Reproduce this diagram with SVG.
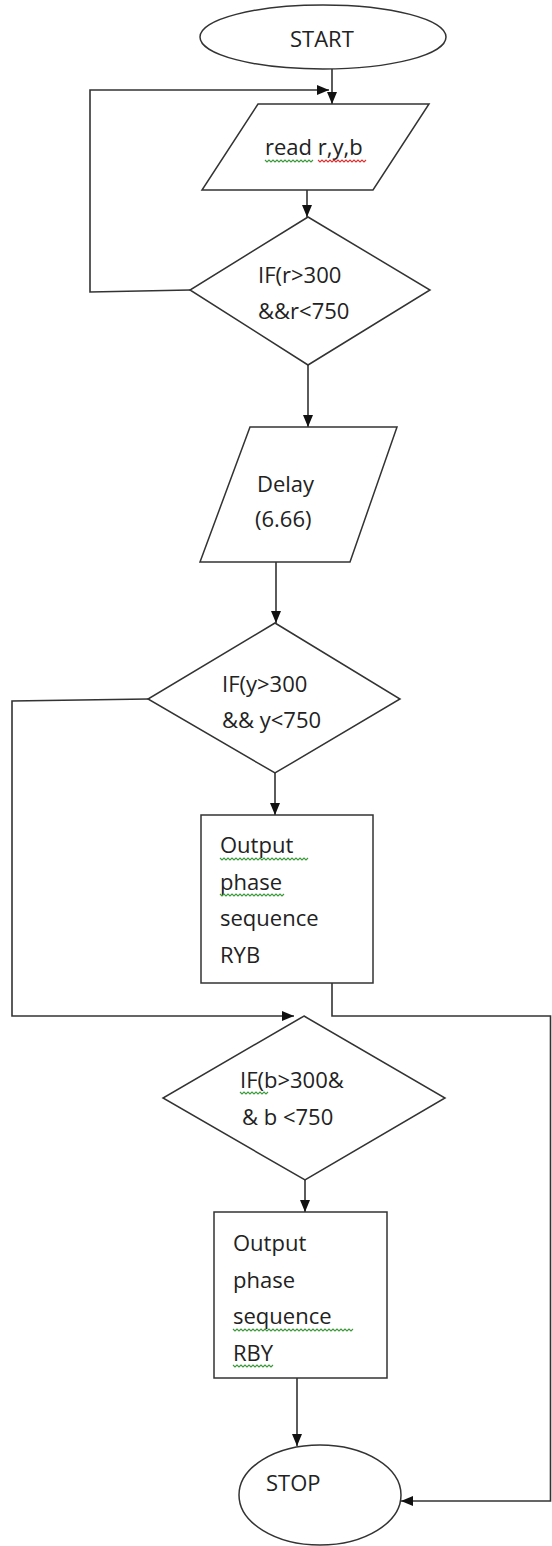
<svg xmlns="http://www.w3.org/2000/svg" width="552" height="1546" viewBox="0 0 552 1546">
<defs>
<marker id="arr" viewBox="0 0 12 10" refX="12" refY="5" markerWidth="12" markerHeight="10" markerUnits="userSpaceOnUse" orient="auto">
<path d="M0,0 L12,5 L0,10 Z" fill="#111"/>
</marker>
<style>
.shape{fill:#fff;stroke:#333;stroke-width:1.5}
.conn{fill:none;stroke:#333;stroke-width:1.6}
.t{font-family:"Open Sans","Noto Sans",sans-serif;font-size:22px;fill:#222}
.sqg{fill:none;stroke:#3a9a3a;stroke-width:1.1}
.sqr{fill:none;stroke:#e03030;stroke-width:1.1}
</style>
</defs>
<rect width="552" height="1546" fill="#fff"/>
<g id="connectors">
<line class="conn" x1="332" y1="69" x2="332" y2="104" marker-end="url(#arr)"/>
<polyline class="conn" points="190,290 90,292 90,90 329,90" marker-end="url(#arr)"/>
<line class="conn" x1="307" y1="190" x2="307" y2="217" marker-end="url(#arr)"/>
<line class="conn" x1="308" y1="365" x2="308" y2="427" marker-end="url(#arr)"/>
<line class="conn" x1="276" y1="562" x2="276" y2="623" marker-end="url(#arr)"/>
<line class="conn" x1="275" y1="773" x2="275" y2="815" marker-end="url(#arr)"/>
<polyline class="conn" points="148,699 12,701 12,1016 294,1016" marker-end="url(#arr)"/>
<polyline class="conn" points="332,983 332,1016 550.5,1016 550.5,1501 401,1501" marker-end="url(#arr)"/>
<line class="conn" x1="305" y1="1180" x2="305" y2="1212" marker-end="url(#arr)"/>
<line class="conn" x1="297" y1="1378" x2="297" y2="1446" marker-end="url(#arr)"/>
</g>
<g id="start">
<ellipse class="shape" cx="323" cy="37" rx="123" ry="32"/>
<text class="t" x="290" y="47">START</text>
</g>
<g id="read">
<polygon class="shape" points="258,104 429,104 373,190 202,190"/>
<text class="t" x="265" y="155">read r,y,b</text>
<path class="sqg" d="M265,160 l2,2 l2,-2 l2,2 l2,-2 l2,2 l2,-2 l2,2 l2,-2 l2,2 l2,-2 l2,2 l2,-2 l2,2 l2,-2 l2,2 l2,-2 l2,2 l2,-2 l2,2 l2,-2 l2,2 l2,-2 l2,2 l2,-2"/>
<path class="sqr" d="M318,160 l2,2 l2,-2 l2,2 l2,-2 l2,2 l2,-2 l2,2 l2,-2 l2,2 l2,-2 l2,2 l2,-2 l2,2 l2,-2 l2,2 l2,-2 l2,2 l2,-2 l2,2 l2,-2 l2,2 l2,-2 l2,2 l2,-2"/>
</g>
<g id="if-r">
<polygon class="shape" points="308,217 430,290 308,365 190,290"/>
<text class="t" x="258" y="283">IF(r&gt;300</text>
<text class="t" x="258" y="319">&amp;&amp;r&lt;750</text>
</g>
<g id="delay">
<polygon class="shape" points="250,427 397,427 350,562 200,562"/>
<text class="t" x="257" y="492">Delay</text>
<text class="t" x="255" y="527">(6.66)</text>
</g>
<g id="if-y">
<polygon class="shape" points="275,623 400,699 275,773 148,699"/>
<text class="t" x="222" y="692">IF(y&gt;300</text>
<text class="t" x="222" y="728">&amp;&amp; y&lt;750</text>
</g>
<g id="out-ryb">
<rect class="shape" x="201" y="815" width="172" height="168"/>
<text class="t" x="220" y="853">Output</text>
<text class="t" x="220" y="890">phase</text>
<text class="t" x="220" y="926">sequence</text>
<text class="t" x="220" y="963">RYB</text>
<path class="sqg" d="M220,858 l2,2 l2,-2 l2,2 l2,-2 l2,2 l2,-2 l2,2 l2,-2 l2,2 l2,-2 l2,2 l2,-2 l2,2 l2,-2 l2,2 l2,-2 l2,2 l2,-2 l2,2 l2,-2 l2,2 l2,-2 l2,2 l2,-2 l2,2 l2,-2 l2,2 l2,-2 l2,2 l2,-2 l2,2 l2,-2 l2,2 l2,-2 l2,2 l2,-2 l2,2 l2,-2 l2,2 l2,-2 l2,2 l2,-2 l2,2 l2,-2"/>
<path class="sqg" d="M220,894 l2,2 l2,-2 l2,2 l2,-2 l2,2 l2,-2 l2,2 l2,-2 l2,2 l2,-2 l2,2 l2,-2 l2,2 l2,-2 l2,2 l2,-2 l2,2 l2,-2 l2,2 l2,-2 l2,2 l2,-2 l2,2 l2,-2 l2,2 l2,-2 l2,2 l2,-2 l2,2 l2,-2 l2,2 l2,-2"/>
</g>
<g id="if-b">
<polygon class="shape" points="304,1016 445,1098 305,1180 163,1098"/>
<text class="t" x="240" y="1088">IF(b&gt;300&amp;</text>
<text class="t" x="242" y="1125">&amp; b &lt;750</text>
<path class="sqg" d="M240,1092 l2,2 l2,-2 l2,2 l2,-2 l2,2 l2,-2 l2,2 l2,-2 l2,2 l2,-2 l2,2 l2,-2 l2,2 l2,-2"/>
</g>
<g id="out-rby">
<rect class="shape" x="214" y="1212" width="173" height="166"/>
<text class="t" x="233" y="1251">Output</text>
<text class="t" x="233" y="1288">phase</text>
<text class="t" x="233" y="1324">sequence</text>
<text class="t" x="233" y="1361">RBY</text>
<path class="sqg" d="M233,1329 l2,2 l2,-2 l2,2 l2,-2 l2,2 l2,-2 l2,2 l2,-2 l2,2 l2,-2 l2,2 l2,-2 l2,2 l2,-2 l2,2 l2,-2 l2,2 l2,-2 l2,2 l2,-2 l2,2 l2,-2 l2,2 l2,-2 l2,2 l2,-2 l2,2 l2,-2 l2,2 l2,-2 l2,2 l2,-2 l2,2 l2,-2 l2,2 l2,-2 l2,2 l2,-2 l2,2 l2,-2 l2,2 l2,-2 l2,2 l2,-2 l2,2 l2,-2 l2,2 l2,-2 l2,2 l2,-2 l2,2 l2,-2 l2,2 l2,-2 l2,2 l2,-2 l2,2 l2,-2 l2,2 l2,-2"/>
<path class="sqg" d="M233,1365 l2,2 l2,-2 l2,2 l2,-2 l2,2 l2,-2 l2,2 l2,-2 l2,2 l2,-2 l2,2 l2,-2 l2,2 l2,-2 l2,2 l2,-2 l2,2 l2,-2 l2,2 l2,-2"/>
</g>
<g id="stop">
<ellipse class="shape" cx="320" cy="1495" rx="81" ry="50"/>
<text class="t" x="266" y="1491">STOP</text>
</g>
</svg>
